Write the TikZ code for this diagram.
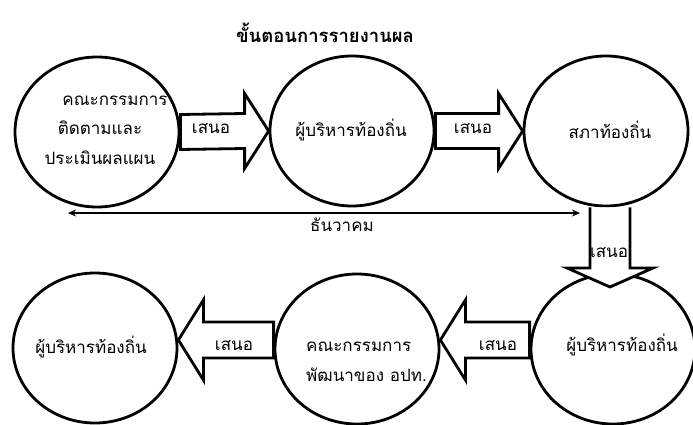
\documentclass[tikz,border=0pt]{standalone}
\usepackage{fontspec}
\newfontfamily\thai[Script=Thai]{Loma}
\usetikzlibrary{calc,shapes.geometric,arrows.meta}
\newcommand\hblock[3]{% from #1 to #2 (tip), direction #3 (1 right, -1 left)
  \draw[barrow] ($(#1)+(0,18)$) -- ($(#2)+({-(#3)*25},18)$) -- ($(#2)+({-(#3)*25},40)$) -- (#2)
    -- ($(#2)+({-(#3)*25},-40)$) -- ($(#2)+({-(#3)*25},-18)$) -- ($(#1)+(0,-18)$) -- cycle;
}
\begin{document}
\begin{tikzpicture}[x=1pt,y=-1pt,
  circ/.style={ellipse,draw,line width=2.8pt,minimum width=164pt,minimum height=150pt,
    inner sep=0pt,fill=white},
  barrow/.style={draw,line width=2.8pt,fill=white,line join=miter},
  lbl/.style={font=\thai\fontsize{17}{29.5}\selectfont,inner sep=0pt,align=center},
  thin arrow/.style={{Stealth[length=8pt,width=7pt]}-{Stealth[length=8pt,width=7pt]},line width=1.3pt}]
\useasboundingbox (0,0) rectangle (693,425);

\node[font=\thai\bfseries\fontsize{18.5}{20}\selectfont,inner sep=0pt] (title) at (325,33) {ขั้นตอนการรายงานผล};

\node[circ] (c1) at (97,132) {};
\node[circ] (c2) at (352,131) {};
\node[circ] (c3) at (606,131) {};
\node[circ] (c4) at (95,348) {};
\node[circ] (c5) at (357,349) {};
\node[circ] (c6) at (613,349) {};

\node[lbl] (c1t) at (100,130) {\hspace*{30pt}คณะกรรมการ\\ติดตามและ\\ประเมินผลแผน};
\node[lbl] (c2t) at (351,130) {ผู้บริหารท้องถิ่น};
\node[lbl] (c3t) at (610,130) {สภาท้องถิ่น};
\node[lbl] (c4t) at (91,347) {ผู้บริหารท้องถิ่น};
\node[lbl,align=left,anchor=west] (c5t) at (306,362) {คณะกรรมการ\\พัฒนาของ อปท.};
\node[lbl] (c6t) at (622,345) {ผู้บริหารท้องถิ่น};

% top block arrows
\coordinate (t1) at (c2.west);
\coordinate (t2) at (c3.west);
\draw[barrow] ($(c1.east)+(0,-17.5)$) -- ($(t1)+(-24,-17.5)$) -- ($(t1)+(-24,-37.5)$) -- (t1)
  -- ($(t1)+(-24,37.5)$) -- ($(t1)+(-24,17.5)$) -- ($(c1.east)+(0,17.5)$) -- cycle;
\draw[barrow] ($(c2.east)+(0,-17.5)$) -- ($(t2)+(-24,-17.5)$) -- ($(t2)+(-24,-37.5)$) -- (t2)
  -- ($(t2)+(-24,37.5)$) -- ($(t2)+(-24,17.5)$) -- ($(c2.east)+(0,17.5)$) -- cycle;
\node[lbl] (l1) at (211,129) {เสนอ};
\node[lbl] (l2) at (473,129) {เสนอ};

% down block arrow
\coordinate (dtip) at (610,287);
\coordinate (dtop) at (dtip |- c3.south);
\draw[barrow] ($(dtop)+(-20,0)$) -- ($(dtip)+(-20,-19)$) -- ($(dtip)+(-43,-19)$) -- (dtip)
  -- ($(dtip)+(43,-19)$) -- ($(dtip)+(20,-19)$) -- ($(dtop)+(20,0)$);
\node[lbl] (l3) at (609,253) {เสนอ};

% bottom block arrows (pointing left)
\coordinate (b1s) at ($(c6.west)+(0,-9)$);
\coordinate (b1t) at ($(c5.east)+(0,-9)$);
\coordinate (b2s) at ($(c5.west)+(0,-9)$);
\coordinate (b2t) at ($(c4.east)+(0,-8)$);
\hblock{b1s}{b1t}{-1}
\hblock{b2s}{b2t}{-1}
\node[lbl] (l4) at (498,346) {เสนอ};
\node[lbl] (l5) at (234,346) {เสนอ};

% timeline
\coordinate (dl) at (68,213);
\coordinate (dr) at (580,213);
\draw[thin arrow] (dl) -- (dr);
\node[lbl] (month) at (342,225) {ธันวาคม};
\end{tikzpicture}
\end{document}
